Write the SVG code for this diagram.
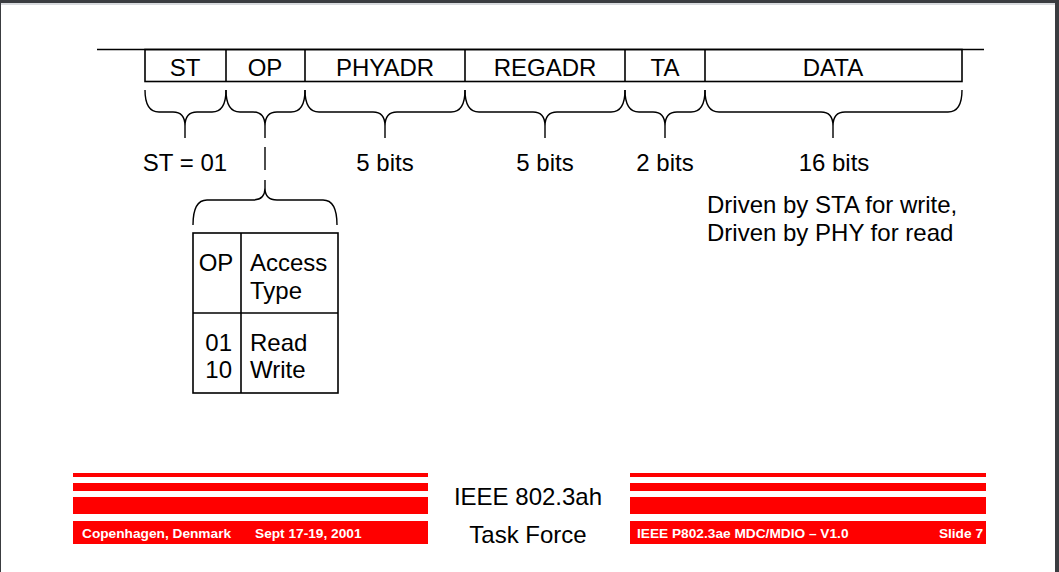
<svg xmlns="http://www.w3.org/2000/svg" width="1059" height="572" viewBox="0 0 1059 572">
<style>
.t{font-family:"Liberation Sans",Arial,sans-serif;font-size:24px;fill:#000}
.c{text-anchor:middle}
.f{font-family:"Liberation Sans",Arial,sans-serif;font-size:13.7px;font-weight:bold;fill:#fff}
.ln{stroke:#000;stroke-width:1.6;fill:none}
.br{stroke:#000;stroke-width:1.4;fill:none}
.red{fill:#ff0000}
</style>
<rect x="0" y="0" width="1059" height="572" fill="#fff"/>
<rect x="0" y="0" width="1059" height="3" fill="#3a3c40"/>
<rect x="0" y="3" width="1059" height="2" fill="#d8dade"/>
<rect x="1055" y="0" width="4" height="572" fill="#3a3c40"/>
<rect x="0" y="0" width="1" height="572" fill="#3a3c40"/>

<g id="frame">
<line class="ln" x1="97" y1="49.5" x2="984" y2="49.5"/>
<rect class="ln" x="145" y="49.5" width="817" height="32"/>
<line class="ln" x1="226" y1="49.5" x2="226" y2="81.5"/>
<line class="ln" x1="305" y1="49.5" x2="305" y2="81.5"/>
<line class="ln" x1="465" y1="49.5" x2="465" y2="81.5"/>
<line class="ln" x1="625" y1="49.5" x2="625" y2="81.5"/>
<line class="ln" x1="705" y1="49.5" x2="705" y2="81.5"/>
<text class="t c" x="185" y="76">ST</text>
<text class="t c" x="265" y="76">OP</text>
<text class="t c" x="385" y="76">PHYADR</text>
<text class="t c" x="545" y="76">REGADR</text>
<text class="t c" x="665" y="76">TA</text>
<text class="t c" x="833" y="76">DATA</text>
</g>

<g id="braces">
<path class="br" d="M145,90 Q145,112 159,112 L173,112 Q185,112 185,126 L185,138 M185,126 Q185,112 197,112 L212,112 Q226,112 226,90"/>
<path class="br" d="M226,90 Q226,112 240,112 L253,112 Q265,112 265,126 L265,138 M265,126 Q265,112 277,112 L291,112 Q305,112 305,90"/>
<path class="br" d="M305,90 Q305,112 319,112 L373,112 Q385,112 385,126 L385,138 M385,126 Q385,112 397,112 L451,112 Q465,112 465,90"/>
<path class="br" d="M465,90 Q465,112 479,112 L533,112 Q545,112 545,126 L545,138 M545,126 Q545,112 557,112 L611,112 Q625,112 625,90"/>
<path class="br" d="M625,90 Q625,112 639,112 L653,112 Q665,112 665,126 L665,138 M665,126 Q665,112 677,112 L691,112 Q705,112 705,90"/>
<path class="br" d="M705,90 Q705,112 719,112 L821,112 Q833,112 833,126 L833,138 M833,126 Q833,112 845,112 L948,112 Q962,112 962,90"/>
</g>

<g id="labels">
<text class="t c" x="185" y="171">ST = 01</text>
<text class="t c" x="385" y="171">5 bits</text>
<text class="t c" x="545" y="171">5 bits</text>
<text class="t c" x="665" y="171">2 bits</text>
<text class="t c" x="834" y="171">16 bits</text>
<text class="t" x="707" y="213">Driven by STA for write,</text>
<text class="t" x="707" y="241">Driven by PHY for read</text>
</g>

<g id="connectors">
<line class="br" x1="265" y1="147" x2="265" y2="170"/>
<path class="br" d="M193,225 Q193,200 207,200 L253,200 Q265,200 265,188 L265,180 M265,188 Q265,200 277,200 L323,200 Q337,200 337,225"/>
</g>

<g id="op-table">
<rect class="ln" x="193" y="233" width="145" height="160"/>
<line class="ln" x1="241" y1="233" x2="241" y2="393"/>
<line class="ln" x1="193" y1="313" x2="338" y2="313"/>
<text class="t c" x="216" y="271">OP</text>
<text class="t" x="250" y="271">Access</text>
<text class="t" x="250" y="299">Type</text>
<text class="t" x="232" y="351" text-anchor="end">01</text>
<text class="t" x="232" y="378" text-anchor="end">10</text>
<text class="t" x="250" y="351">Read</text>
<text class="t" x="250" y="378">Write</text>
</g>

<g id="footer-left">
<rect class="red" x="73" y="473" width="355" height="4"/>
<rect class="red" x="73" y="483" width="355" height="8"/>
<rect class="red" x="73" y="497" width="355" height="17"/>
<rect class="red" x="73" y="521" width="355" height="23"/>
<text class="f" x="82" y="538">Copenhagen, Denmark</text>
<text class="f" x="255" y="538">Sept 17-19, 2001</text>
</g>

<g id="footer-center">
<text class="t c" x="528" y="505">IEEE 802.3ah</text>
<text class="t c" x="528" y="543">Task Force</text>
</g>

<g id="footer-right">
<rect class="red" x="630" y="473" width="356" height="4"/>
<rect class="red" x="630" y="483" width="356" height="8"/>
<rect class="red" x="630" y="497" width="356" height="17"/>
<rect class="red" x="630" y="521" width="356" height="23"/>
<text class="f" x="637" y="538">IEEE P802.3ae MDC/MDIO – V1.0</text>
<text class="f" x="983" y="538" text-anchor="end">Slide 7</text>
</g>
</svg>
